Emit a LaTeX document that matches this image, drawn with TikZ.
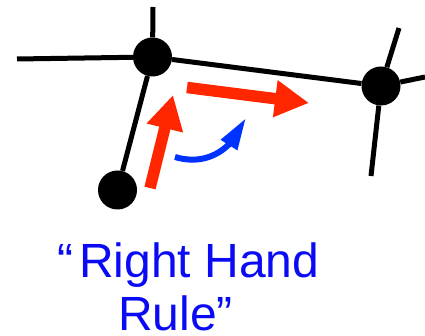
\documentclass[tikz,border=0pt]{standalone}
\usepackage{fontspec}
\setmainfont{Liberation Sans}
\usetikzlibrary{arrows.meta,bending}
\definecolor{arrred}{RGB}{255,38,0}
\definecolor{arrblue}{RGB}{0,50,255}
\definecolor{txtblue}{RGB}{10,10,245}
\tikzset{
  vtx/.style={circle, fill=black, inner sep=0pt, minimum size=39pt},
  edge/.style={draw=black, line width=5pt},
  redarrow/.style={draw=arrred, line width=11.5pt, -{Triangle[length=34pt,width=35pt]}},
  bluearrow/.style={draw=arrblue, line width=6pt, -{Triangle[length=32pt,width=18pt,flex]}},
  label/.style={text=txtblue, font=\fontsize{48}{54}\selectfont, inner sep=0pt, anchor=base west}
}
\begin{document}
\begin{tikzpicture}[x=1pt,y=-1pt]
\useasboundingbox (0,0) rectangle (425,336);
\node[vtx] (A) at (152.5,57) {};
\node[vtx] (B) at (381,86) {};
\node[vtx] (C) at (117.5,190) {};
\coordinate (L) at (17,59);
\coordinate (Aup) at (153,7);
\coordinate (Bup) at (399,28);
\coordinate (Br) at (425,77);
\coordinate (Bdn) at (371,176);
\draw[edge] (L) -- (A);
\draw[edge] (Aup) -- (A);
\draw[edge] (A) -- (B);
\draw[edge] (A) -- (C);
\draw[edge] (B) -- (Bup);
\draw[edge] (B) -- (Br);
\draw[edge] (B) -- (Bdn);
\coordinate (r1s) at (150,188);
\coordinate (r1e) at (173,95);
\coordinate (r2s) at (187,87.5);
\coordinate (r2e) at (309,103);
\draw[redarrow] (r1s) -- (r1e);
\draw[redarrow] (r2s) -- (r2e);
\coordinate (b1s) at (175,157);
\coordinate (b1e) at (246,118);
\draw[bluearrow] (b1s) .. controls (205,166) and (232,152) .. (b1e);
\node[label] (t1) at (57,277) {“\hspace{6pt}Right Hand};
\node[label] (t2) at (118,330) {Rule”};
\end{tikzpicture}
\end{document}
